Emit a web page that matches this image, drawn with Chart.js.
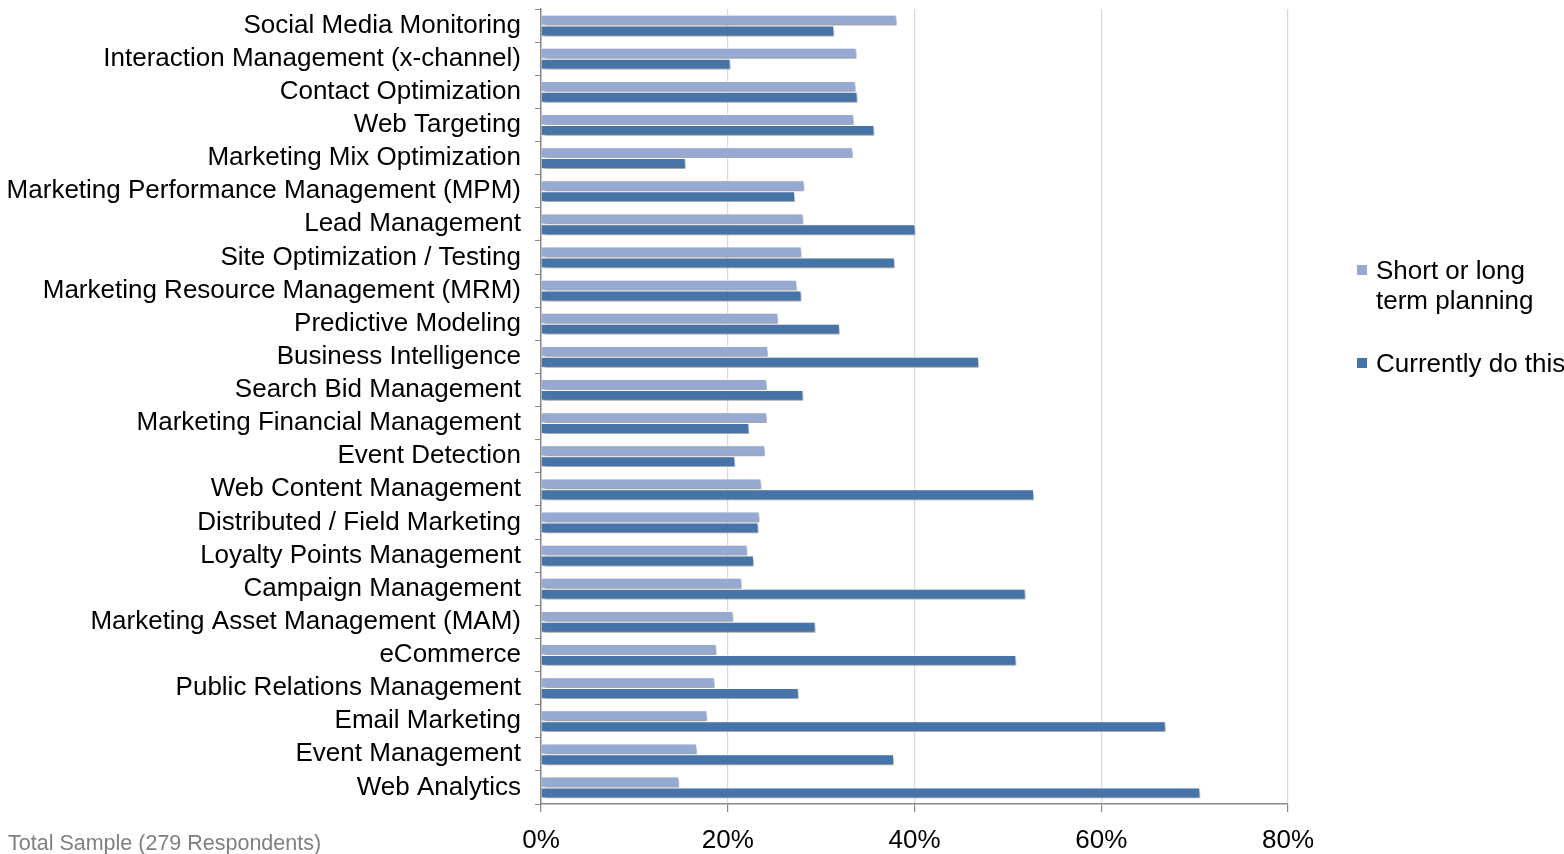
<!DOCTYPE html>
<html>
<head>
<meta charset="utf-8">
<script src="https://cdn.jsdelivr.net/npm/chart.js@4/dist/chart.umd.min.js"></script>
<style>
  html, body { margin: 0; padding: 0; background: #fff; }
  #wrap { position: relative; width: 1564px; height: 854px; font-family: "Liberation Sans", Arial, sans-serif; }
  #legend { position: absolute; left: 1357px; top: 255px; font-size: 26px; color: #000; line-height: 30px; white-space: nowrap; }
  .item { position: relative; padding-left: 19px; }
  .box { position: absolute; left: 0; top: 10px; width: 10px; height: 10px; }
  #note { position: absolute; left: 8px; top: 831px; font-size: 21.5px; color: #7f7f7f; }
</style>
</head>
<body>
<div id="wrap">
  <canvas id="chart" width="1564" height="854"></canvas>
  <div id="legend">
    <div class="item"><span class="box" style="background:#95a9d1"></span>Short or long<br>term planning</div>
    <div class="item" style="margin-top:33px"><span class="box" style="background:#4673a8"></span>Currently do this</div>
  </div>
  <div id="note">Total Sample (279 Respondents)</div>
</div>
<script>
const categories = [
    "Social Media Monitoring", "Interaction Management (x-channel)", "Contact Optimization",
    "Web Targeting", "Marketing Mix Optimization", "Marketing Performance Management (MPM)",
    "Lead Management", "Site Optimization / Testing", "Marketing Resource Management (MRM)",
    "Predictive Modeling", "Business Intelligence", "Search Bid Management",
    "Marketing Financial Management", "Event Detection", "Web Content Management",
    "Distributed / Field Marketing", "Loyalty Points Management", "Campaign Management",
    "Marketing Asset Management (MAM)", "eCommerce", "Public Relations Management",
    "Email Marketing", "Event Management", "Web Analytics"
];

const planning = [38.1, 33.8, 33.7, 33.5, 33.4, 28.2, 28.1, 27.9, 27.4, 25.4, 24.3, 24.2,
    24.2, 24.0, 23.6, 23.4, 22.1, 21.5, 20.6, 18.8, 18.6, 17.8, 16.7, 14.8];
const currently = [31.4, 20.3, 33.9, 35.7, 15.5, 27.2, 40.1, 37.9, 27.9, 32.0, 46.9, 28.1,
    22.3, 20.8, 52.8, 23.3, 22.8, 51.9, 29.4, 50.9, 27.6, 66.9, 37.8, 70.6];

const xTicks = [0, 20, 40, 60, 80];

const shadow = {
    id: "shadow",
    beforeDatasetsDraw(chart) {
        const c = chart.ctx;
        c.save();
        c.shadowColor = "rgba(0,0,0,0.4)";
        c.shadowOffsetX = 2;
        c.shadowOffsetY = 3;
        c.shadowBlur = 4;
    },
    afterDatasetsDraw(chart) {
        chart.ctx.restore();
    }
};

const font = { family: "'Liberation Sans', Arial, sans-serif", size: 26 };

new Chart(document.getElementById("chart"), {
    type: "bar",
    data: {
        labels: categories,
        datasets: [
            { label: "Short or long term planning", data: planning, backgroundColor: "#95a9d1",
              borderColor: "#fff", borderWidth: 1 },
            { label: "Currently do this", data: currently, backgroundColor: "#4673a8",
              borderColor: "#fff", borderWidth: 1 }
        ]
    },
    plugins: [shadow],
    options: {
        indexAxis: "y",
        responsive: false,
        animation: false,
        layout: { padding: { top: 9, right: 276, left: 0, bottom: 0 } },
        datasets: { bar: { categoryPercentage: 0.66, barPercentage: 1 } },
        plugins: { legend: { display: false }, tooltip: { enabled: false } },
        scales: {
            x: {
                min: 0, max: 80,
                afterBuildTicks: s => { s.ticks = xTicks.map(v => ({ value: v })); },
                afterFit: s => { s.height = 50; s.paddingLeft = 0; s.paddingRight = 0; },
                grid: { color: "#d9d9d9", tickColor: "#888", tickLength: 8, lineWidth: 1.2 },
                border: { color: "#888", width: 1.5 },
                ticks: { font: font, color: "#000", padding: 13, callback: v => v + "%" }
            },
            y: {
                afterFit: s => { s.width = 541; s.paddingTop = 0; s.paddingBottom = 0; },
                grid: { drawOnChartArea: false, tickColor: "#888", tickLength: 6, offset: true },
                border: { color: "#888", width: 1.5 },
                ticks: { font: font, color: "#000", padding: 14, autoSkip: false }
            }
        }
    }
});
</script>
</body>
</html>
